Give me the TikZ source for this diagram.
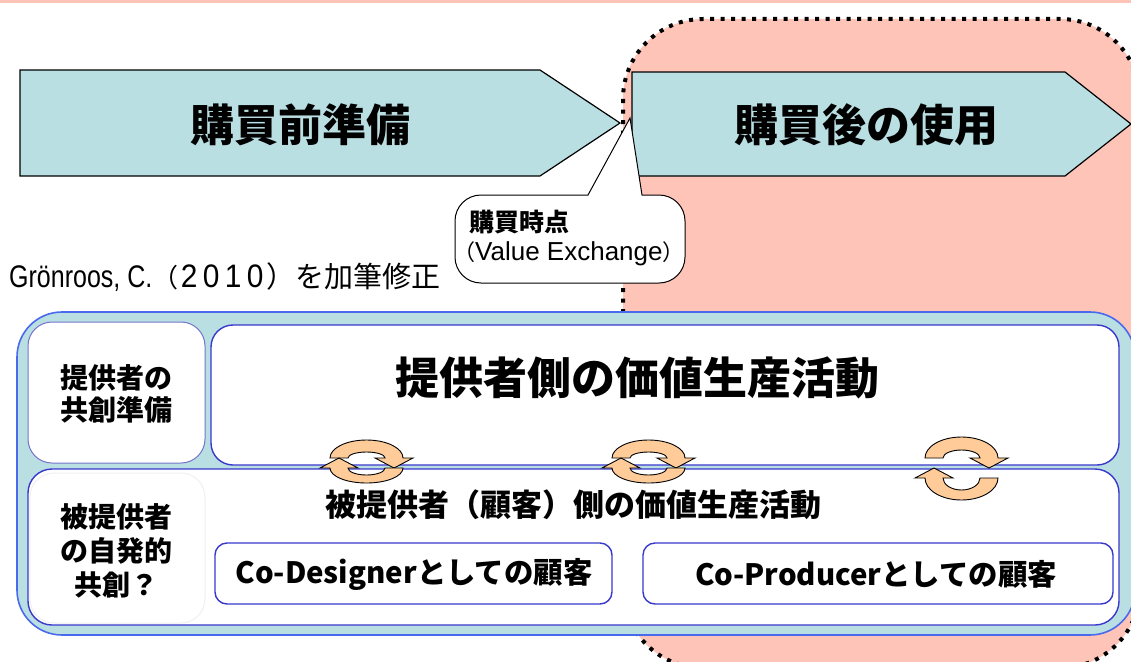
\documentclass[tikz,border=0pt]{standalone}
\usepackage{fontspec}
\setmainfont{Liberation Sans}
\newfontfamily\jp{Noto Sans CJK JP}
\definecolor{arrowfill}{HTML}{BADFE3}
\definecolor{pinkfill}{HTML}{FFC4B8}
\definecolor{outerblue}{HTML}{4A6AEE}
\definecolor{innerblue}{HTML}{3838CC}
\definecolor{softblue}{HTML}{7474CC}
\definecolor{cycfill}{HTML}{FFCC99}
\newcommand\dg[1]{\makebox[22pt]{\scalebox{1.15}[1.25]{\fontsize{26}{30}\selectfont #1}}}
\tikzset{
  stagearrow/.style={fill=arrowfill, draw=black, line width=1.2pt, line join=miter},
  pinkregion/.style={fill=pinkfill, draw=black, line width=4pt, dash pattern=on 4pt off 6.5pt, rounded corners=80},
  calloutbox/.style={fill=white, draw=black, line width=1pt},
  outerbox/.style={fill=arrowfill, draw=outerblue, line width=1.6pt, rounded corners=45},
  whitebox/.style={fill=white, draw=innerblue, line width=1.4pt, rounded corners=24},
  rolebox/.style={fill=white, draw=innerblue, line width=1.4pt, rounded corners=12},
  lbl/.style={font=\jp\bfseries, inner sep=0pt, align=center},
  cyc/.style={fill=cycfill, draw=black, line width=0.9pt, line join=miter},
  pics/cycle/.style n args={5}{code={
    % #1 half gap, #2 upper outer ry, #3 upper inner ry, #4 lower outer ry, #5 lower inner ry
    \filldraw[cyc] (-36.5,-#1) arc[start angle=180, end angle=360, x radius=36.5, y radius=#2]
      -- (46.5,-#1) -- (27.5,10-#1) -- (8.5,-#1) -- (18.5,-#1)
      arc[start angle=360, end angle=180, x radius=18.5, y radius=#3] -- cycle;
    \filldraw[cyc] (36.5,#1) arc[start angle=0, end angle=180, x radius=36.5, y radius=#4]
      -- (-46.5,#1) -- (-27.5,#1-10) -- (-8.5,#1) -- (-18.5,#1)
      arc[start angle=180, end angle=0, x radius=18.5, y radius=#5] -- cycle;
  }}
}
\begin{document}
\begin{tikzpicture}[x=1pt,y=-1pt]
\useasboundingbox (0,0) rectangle (1131,661);
% top strip
\fill[pinkfill] (0,0) rectangle (1131,3);
% post-purchase region
\path[pinkregion] (623,19) rectangle (1140,668);
% stage arrows
\filldraw[stagearrow] (20,70) -- (540,70) -- (620,123) -- (540,176) -- (20,176) -- cycle;
\node[lbl, font=\jp\bfseries\fontsize{44}{50}\selectfont] (pre) at (300,125) {購買前準備};
\filldraw[stagearrow] (632,72) -- (1065,72) -- (1131,124) -- (1065,176) -- (632,176) -- cycle;
\node[lbl, font=\jp\bfseries\fontsize{44}{50}\selectfont] (post) at (866,125) {購買後の使用};
% callout
\coordinate (tip) at (630,118);
\filldraw[calloutbox] (tip) -- (642,195) [rounded corners=26] -- (685,195) -- (685,283) -- (455,283) -- (455,195) [sharp corners] -- (588,195) -- cycle;
\node[anchor=west, inner sep=0pt, font=\jp\bfseries\fontsize{25}{28}\selectfont] (bp) at (469,222) {購買時点};
\node[anchor=west, inner sep=0pt, font=\fontsize{26}{30}\selectfont] (ve) at (453,254) {{\jp\fontsize{22}{26}\selectfont （}Value Exchange{\jp\fontsize{22}{26}\selectfont ）}};
% source
\node[anchor=west, inner sep=0pt, font=\fontsize{25}{30}\selectfont] (src) at (9,277) {\scalebox{1}[1.25]{Grönroos, C.}{\jp\fontsize{26}{30}\selectfont （}\dg{2}\dg{0}\dg{1}\dg{0}{\jp\fontsize{29}{30}\selectfont ）を加筆修正}};
% lower panel
\path[outerbox] (17,312) rectangle (1135,635);
\path[whitebox, draw=softblue, line width=1pt] (28,322) rectangle (205,463);
\path[whitebox, rounded corners=22] (211,325) rectangle (1119,465);
\path[whitebox] (28,469) rectangle (1119,625);
\path[whitebox, draw=black!6, line width=1pt] (30,473) rectangle (205,623);
\path[rolebox] (215,543) rectangle (612,604);
\path[rolebox] (643,543) rectangle (1113,604);
% texts
\node[lbl, font=\jp\bfseries\fontsize{28}{32}\selectfont] (prov) at (116,394) {提供者の\\共創準備};
\node[lbl, font=\jp\bfseries\fontsize{28}{34}\selectfont] (cust) at (116,551) {被提供者\\の自発的\\共創？};
\node[lbl, font=\jp\bfseries\fontsize{44}{50}\selectfont] (pv) at (637,378) {提供者側の価値生産活動};
\node[lbl, font=\jp\bfseries\fontsize{31}{36}\selectfont] (cv) at (573,505) {被提供者（顧客）側の価値生産活動};
\node[lbl, font=\jp\bfseries\fontsize{29.4}{36}\selectfont] (cd) at (414,574) {Co-Designerとしての顧客};
\node[lbl, font=\jp\bfseries\fontsize{29.4}{36}\selectfont] (cp) at (876,574) {Co-Producerとしての顧客};
% co-creation cycles
\pic at (366.5,463) {cycle={5}{18}{6}{15}{7}};
\pic at (648.5,463) {cycle={5}{18}{6}{15}{7}};
\pic at (961.5,468) {cycle={10}{21}{8}{22}{12}};
\end{tikzpicture}
\end{document}
